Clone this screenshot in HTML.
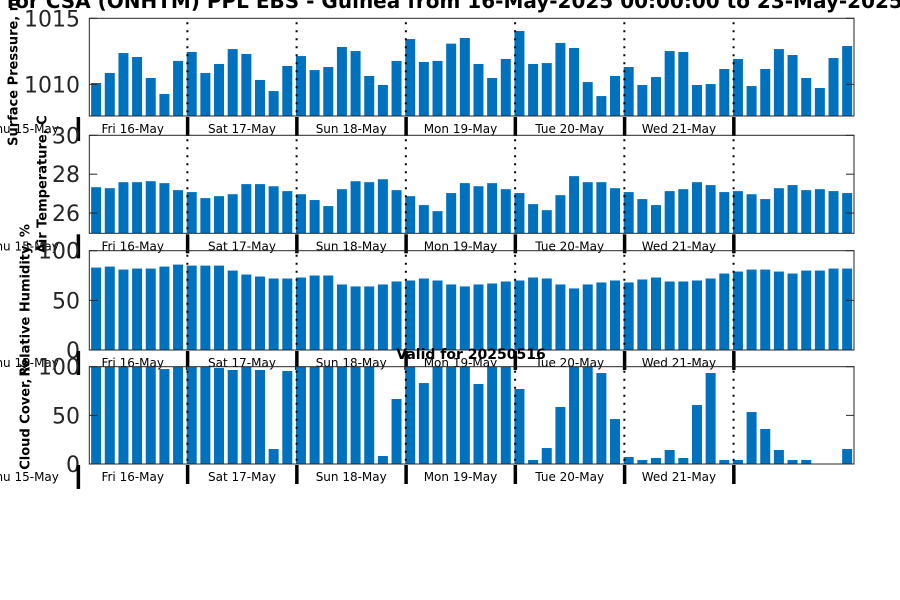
<!DOCTYPE html>
<html><head><meta charset="utf-8"><style>
html,body{margin:0;padding:0;background:#fff;width:900px;height:600px;overflow:hidden}
svg text{font-family:"DejaVu Sans","Liberation Sans",sans-serif}
</style></head><body>
<svg id="chart" width="900" height="600" viewBox="0 0 900 600" xmlns="http://www.w3.org/2000/svg">
<text x="450" y="8" text-anchor="middle" font-weight="bold" font-size="20" fill="#000">Forecasts for CSA (ONHTM) PPL EBS  - Guinea from 16-May-2025 00:00:00 to 23-May-2025 00:00:00</text>
<g id="panels"></g>
<text x="471" y="359" text-anchor="middle" font-weight="bold" font-size="14" fill="#000">Valid for 20250516</text>
</svg>
<script>
const dayLabels = ["Thu 15-May","Fri 16-May","Sat 17-May","Sun 18-May","Mon 19-May","Tue 20-May","Wed 21-May"];
const pressure = [1010.1,1010.86,1012.37,1012.07,1010.48,1009.27,1011.77,1012.45,1010.86,1011.54,1012.67,1012.3,1010.33,1009.49,1011.39,1012.14,1011.08,1011.31,1012.83,1012.52,1010.63,1009.95,1011.77,1013.43,1011.69,1011.77,1013.08,1013.51,1011.54,1010.48,1011.92,1014.04,1011.54,1011.61,1013.13,1012.75,1010.17,1009.11,1010.63,1011.31,1009.95,1010.55,1012.52,1012.45,1009.95,1010.02,1011.16,1011.92,1009.87,1011.16,1012.67,1012.22,1010.48,1009.72,1011.99,1012.9];
const temperature = [27.33,27.28,27.59,27.59,27.64,27.54,27.18,27.08,26.77,26.87,26.97,27.49,27.49,27.38,27.13,26.97,26.67,26.36,27.23,27.64,27.59,27.74,27.18,26.87,26.41,26.1,27.03,27.54,27.38,27.54,27.23,27.03,26.46,26.15,26.92,27.9,27.59,27.59,27.28,27.08,26.72,26.41,27.13,27.23,27.59,27.44,27.08,27.13,26.97,26.72,27.28,27.44,27.18,27.23,27.13,27.03];
const humidity = [83,84,81,82,82,84,86,85,85,85,80,76,74,72,72,73,75,75,66,64,64,66,69,70,72,70,66,64,66,67,69,70,73,72,66,62,66,68,70,68,71,73,69,69,70,72,77,79,81,81,79,77,80,80,82,82];
const cloud = [100,100,100,100,100,97.6,100,100,100,98.7,96.6,100,96.6,15.4,95.6,100,100,100,100,100,100,8.2,66.8,100,83.2,100,100,100,82.2,100,100,77.1,4.1,16.4,58.6,100,100,93.5,46.2,7.2,4.1,6.2,14.4,6.2,60.6,93.5,4.1,4.1,53.4,36,14.4,4.1,4.1,0,0,15.4];
const pTicks = [1010,1015];
const tTicks = [26,28,30];
const pctTicks = [0,50,100];

const NS = "http://www.w3.org/2000/svg";
const root = document.getElementById("panels");
const X0 = 89.3, X1 = 854, N = 56;
const step = (X1 - X0) / N, barW = 10;
function xBar(i){ return X0 + i*step + (step-barW)/2; }
function sepX(k){ return X0 + (7.35 + 8*k)*step - 2.3; }
function el(tag, attrs, parent){
  const e = document.createElementNS(NS, tag);
  for (const k in attrs) e.setAttribute(k, attrs[k]);
  (parent||root).appendChild(e); return e;
}
const panels = [
  {name:"pressure", data:pressure, lo:1007.6, hi:1015, top:18.3, bot:116, ticks:pTicks, label:"Surface Pressure, mb", lx:13},
  {name:"temperature", data:temperature, lo:24.96, hi:30, top:135.3, bot:233.3, ticks:tTicks, label:"Air Temperature, C", lx:42},
  {name:"humidity", data:humidity, lo:0, hi:100, top:250.7, bot:350, ticks:pctTicks, label:"Relative Humidity, %", lx:25},
  {name:"cloud-cover", data:cloud, lo:0, hi:100, top:366.7, bot:464, ticks:pctTicks, label:"Cloud Cover, %", lx:25}
];
panels.forEach(p => {
  const g = el("g", {});
  
  
  const y = v => p.bot - (v - p.lo) / (p.hi - p.lo) * (p.bot - p.top);
  p.data.forEach((v, i) => {
    const yy = Math.min(y(v), p.bot);
    const r = el("rect", {x:xBar(i), y:yy, width:barW, height:p.bot-yy, fill:"#0072bd"}, g);
    
    
  });
  for (let k=0;k<6;k++){
    const d = el("line", {x1:sepX(k), x2:sepX(k), y1:p.top+4, y2:p.bot, stroke:"#000", "stroke-width":2, "stroke-dasharray":"2 6"}, g);
    
    
  }
  const box = el("rect", {x:X0, y:p.top, width:X1-X0, height:p.bot-p.top, fill:"none", stroke:"#262626", "stroke-width":1}, g);
  
  
  p.ticks.forEach(t => {
    const ty = y(t);
    el("line", {x1:X0, x2:X0+8, y1:ty, y2:ty, stroke:"#262626"}, g);
    el("line", {x1:X1-8, x2:X1, y1:ty, y2:ty, stroke:"#262626"}, g);
    const tl = el("text", {x:80, y:ty+8, "text-anchor":"end", "font-size":22, fill:"#262626"}, g);
    
    
    tl.textContent = String(t);
  });
  const cy = (p.top + p.bot) / 2;
  const yl = el("text", {x:p.lx, y:cy, transform:`rotate(-90 ${p.lx} ${cy})`, "text-anchor":"middle", "font-size":13, "font-weight":"bold", fill:"#000", dy:"0.35em"}, g);
  
  
  yl.textContent = p.label;
  // day strip
  const s0 = sepX(0) - 8*step;
  for (let k=0;k<7;k++){
    const sx = sepX(k) - 8*step;
    const sep = el("rect", {x:sx-1.5, y:p.bot+1, width:3.5, height:(k===0?24:19), fill:"#000"}, g);
    
    
  }
  dayLabels.forEach((d, k) => {
    const cx = s0 + (k - 0.5) * 8*step;
    const t = el("text", {x:cx, y:p.bot+17, "text-anchor":"middle", "font-size":12, fill:"#000"}, g);
    
    
    t.textContent = d;
  });
});
</script>
</body></html>
